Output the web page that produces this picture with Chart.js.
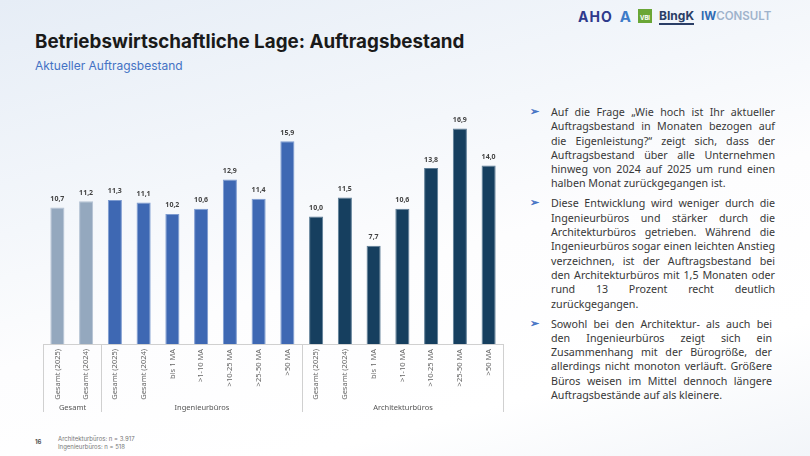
<!DOCTYPE html>
<html lang="de">
<head>
<meta charset="utf-8">
<title>Auftragsbestand</title>
<script src="https://cdn.jsdelivr.net/npm/chart.js@4.4.1/dist/chart.umd.min.js"></script>
<style>
  html, body { margin: 0; padding: 0; }
  body {
    width: 810px; height: 456px; overflow: hidden; position: relative;
    font-family: Inter, "Noto Sans", sans-serif;
    background: linear-gradient(165deg, #e6edf6 0%, #f4f7fb 35%, #fdfdfe 55%, #ffffff 80%, #f2f5f9 100%);
  }
  .title { position: absolute; left: 35px; top: 30px; font-size: 18.8px; font-weight: 700; color: #1a1a1a; }
  .subtitle { position: absolute; left: 35px; top: 58px; font-size: 12px; color: #4472c4; }
  .logos { position: absolute; left: 578px; top: 7px; height: 18px; display: flex; align-items: center; gap: 7px; }
  .logos span { font-weight: 700; }
  .aho { color: #2e3a8c; font-size: 14px; letter-spacing: 1px; }
  .a { color: #3d7cc9; font-size: 15px; }
  .vbi { background: #6aa636; color: #fff; font-size: 6px; padding: 5px 2px 2px; }
  .bingk { color: #2b3e66; font-size: 12px; border-bottom: 2px solid #2b3e66; }
  .iw { color: #2f6bb3; font-size: 11.5px; }
  .iw em { font-style: normal; color: #9fb3cc; font-weight: 600; }
  #wrap { position: absolute; left: 0; top: 80px; width: 520px; height: 340px; }
  .text { position: absolute; left: 551px; top: 105px; width: 224px; font-family: "Noto Sans", sans-serif; font-size: 10.7px; line-height: 14.3px; color: #383838; text-align: justify; }
  .text p { margin: 0 0 5.7px; position: relative; }
  .text p.narrow { width: 221px; text-align-last: left; }
  .text p::before { content: "\27A2"; position: absolute; left: -21px; top: -1px; color: #4472c4; font-size: 11px; font-weight: 700; }
  .pg { position: absolute; left: 35px; top: 438px; font-size: 6px; font-weight: 700; color: #555; }
  .note { position: absolute; left: 58px; top: 435px; font-size: 6px; line-height: 8px; color: #777; }
</style>
</head>
<body>
<div class="title">Betriebswirtschaftliche Lage: Auftragsbestand</div>
<div class="subtitle">Aktueller Auftragsbestand</div>
<div class="logos">
  <span class="aho">AHO</span>
  <span class="a">A</span>
  <span class="vbi">VBI</span>
  <span class="bingk">BIngK</span>
  <span class="iw">IW<em>CONSULT</em></span>
</div>
<div id="wrap"><canvas id="chart"></canvas></div>
<div class="text">
  <p>Auf die Frage „Wie hoch ist Ihr aktueller Auftragsbestand in Monaten bezogen auf die Eigenleistung?“ zeigt sich, dass der Auftragsbestand über alle Unternehmen hinweg von 2024 auf 2025 um rund einen halben Monat zurückgegangen ist.</p>
  <p>Diese Entwicklung wird weniger durch die Ingenieurbüros und stärker durch die Architekturbüros getrieben. Während die Ingenieurbüros sogar einen leichten Anstieg verzeichnen, ist der Auftragsbestand bei den Architekturbüros mit 1,5 Monaten oder rund 13 Prozent recht deutlich zurückgegangen.</p>
  <p class="narrow">Sowohl bei den Architektur- als auch bei den Ingenieurbüros zeigt sich ein Zusammenhang mit der Bürogröße, der allerdings nicht monoton verläuft. Größere Büros weisen im Mittel dennoch längere Auftragsbestände auf als kleinere.</p>
</div>
<div class="pg">16</div>
<div class="note">Architekturbüros: n = 3.917<br>Ingenieurbüros: n = 518</div>

<script>
var categories = ["Gesamt (2025)", "Gesamt (2024)",
  "Gesamt (2025)", "Gesamt (2024)", "bis 1 MA", ">1-10 MA", ">10-25 MA", ">25-50 MA", ">50 MA",
  "Gesamt (2025)", "Gesamt (2024)", "bis 1 MA", ">1-10 MA", ">10-25 MA", ">25-50 MA", ">50 MA"];
var values = [10.7, 11.2, 11.3, 11.1, 10.2, 10.6, 12.9, 11.4, 15.9, 10.0, 11.5, 7.7, 10.6, 13.8, 16.9, 14.0];
var groupNames = ["Gesamt", "Ingenieurbüros", "Architekturbüros"];
var groupSizes = [2, 7, 7];
var groupColors = ["#94a8be", "#3e68b3", "#163f5f"];
var groupBorders = ["#b3c2d3", "#7d9bd0", "#5d7d96"];

// farbe je balken aus der gruppe
var barColors = [], barBorders = [];
groupSizes.forEach(function(n, g){
  for (var i = 0; i < n; i++) { barColors.push(groupColors[g]); barBorders.push(groupBorders[g]); }
});

function fmt(v){ return v.toFixed(1).replace(".", ","); }

var valueLabels = {
  id: "valueLabels",
  afterDatasetsDraw: function(chart){
    var ctx = chart.ctx;
    var meta = chart.getDatasetMeta(0);
    ctx.save();
    ctx.font = "bold 7px 'Noto Sans', sans-serif";
    ctx.fillStyle = "#444";
    ctx.textAlign = "center";
    ctx.textBaseline = "bottom";
    meta.data.forEach(function(bar, i){
      ctx.fillText(fmt(values[i]), bar.x, bar.y - 5);
    });
    ctx.restore();
  }
};

var groupAxis = {
  id: "groupAxis",
  afterDraw: function(chart){
    var ctx = chart.ctx;
    var x = chart.scales.x;
    var half = (x.getPixelForValue(1) - x.getPixelForValue(0)) / 2;
    var top = chart.chartArea.bottom;
    var bottom = top + 68;
    ctx.save();
    ctx.strokeStyle = "#d0d0d0";
    ctx.lineWidth = 1;
    ctx.fillStyle = "#555";
    ctx.font = "7.5px 'Noto Sans', sans-serif";
    ctx.textAlign = "center";
    ctx.textBaseline = "middle";
    var start = 0;
    groupSizes.forEach(function(n, g){
      var x0 = Math.round(x.getPixelForValue(start) - half) + 0.5;
      var x1 = Math.round(x.getPixelForValue(start + n - 1) + half) + 0.5;
      ctx.beginPath();
      ctx.moveTo(x0, top); ctx.lineTo(x0, bottom);
      ctx.moveTo(x1, top); ctx.lineTo(x1, bottom);
      ctx.stroke();
      ctx.fillText(groupNames[g], (x0 + x1) / 2, top + 64);
      start += n;
    });
    ctx.restore();
  }
};

var ctx = document.getElementById("chart").getContext("2d");
window.bar = new Chart(ctx, {
  type: "bar",
  data: {
    labels: categories,
    datasets: [{
      data: values,
      backgroundColor: barColors,
      borderColor: barBorders,
      borderWidth: 1,
      barPercentage: 0.49,
      categoryPercentage: 1
    }]
  },
  options: {
    responsive: true,
    maintainAspectRatio: false,
    animation: false,
    layout: { padding: { left: 43, right: 17, top: 9, bottom: 0 } },
    plugins: { legend: { display: false }, tooltip: { enabled: false } },
    scales: {
      x: {
        grid: { display: false, drawTicks: false },
        border: { color: "#d0d0d0" },
        ticks: {
          color: "#666",
          font: { size: 7.5, family: "'Noto Sans', sans-serif" },
          minRotation: 90, maxRotation: 90,
          padding: 5,
          autoSkip: false
        },
        afterFit: function(s){ s.height = 76; }
      },
      y: { display: false, min: 0, max: 20 }
    }
  },
  plugins: [valueLabels, groupAxis]
});
</script>
</body>
</html>
